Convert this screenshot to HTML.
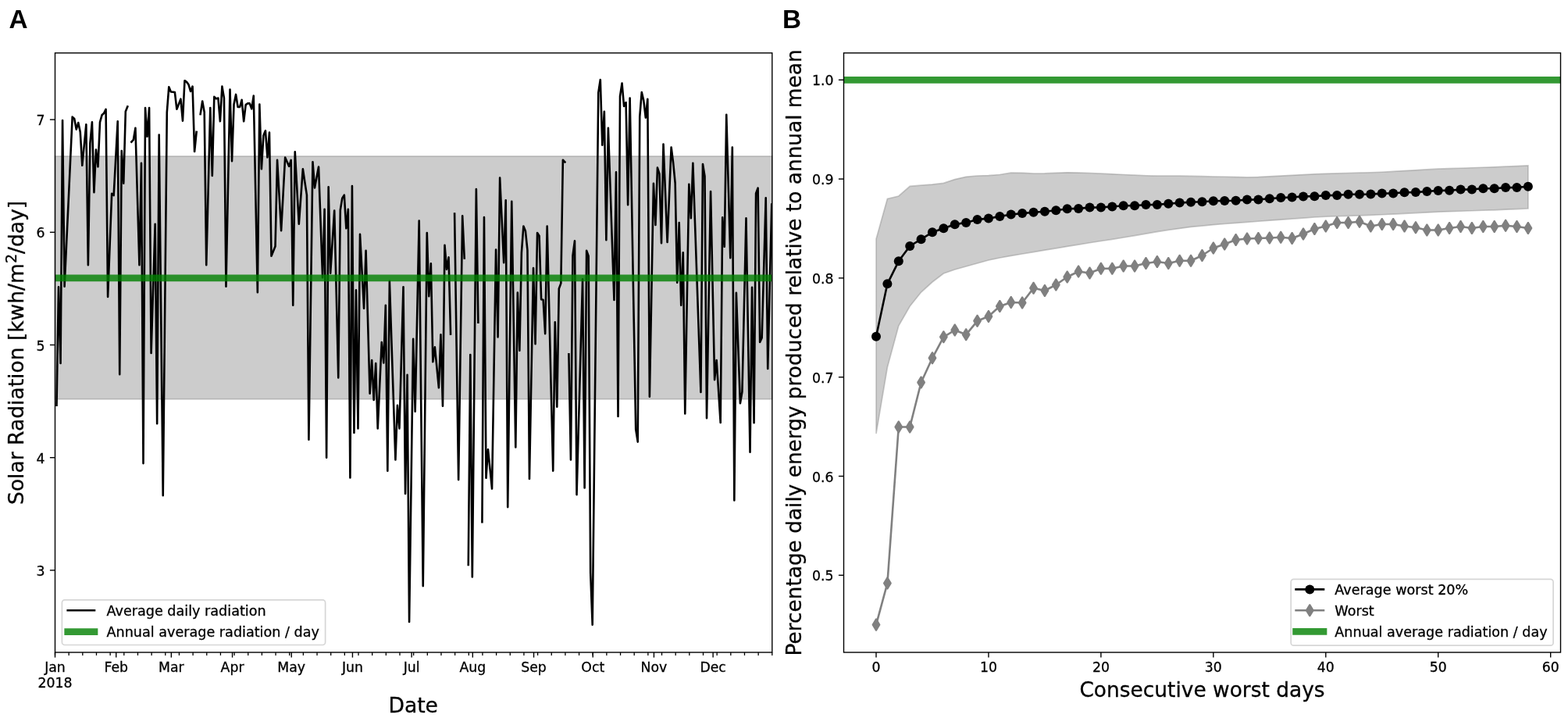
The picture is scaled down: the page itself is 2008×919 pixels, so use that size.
<!DOCTYPE html>
<html><head><meta charset="utf-8"><title>Solar radiation figure</title>
<style>html,body{margin:0;padding:0;background:#fff;}svg{display:block;}
text{font-family:'DejaVu Sans', 'Liberation Sans', sans-serif;fill:#000;stroke:#000;stroke-width:0.3px;}</style></head>
<body><svg width="2008" height="919" viewBox="0 0 2008 919">
<rect width="2008" height="919" fill="#fff"/>
<defs><clipPath id="ca"><rect x="70.5" y="67.8" width="918.3" height="767.2"/></clipPath><clipPath id="cb"><rect x="1080.5" y="67.8" width="918.0" height="767.2"/></clipPath></defs>
<rect x="70.5" y="200.0" width="918.3" height="310.8" fill="#808080" fill-opacity="0.4" stroke="#808080" stroke-opacity="0.4" stroke-width="1.7"/>
<path d="M72.5,518.6 L75.02,367.3 L77.55,465 L80.07,154.1 L82.59,366.7 L85.11,312.4 L87.64,258.2 L90.16,203.9 L92.68,149.6 L95.21,151.9 L97.73,165.6 L100.25,157 L102.77,169 L105.3,211.8 L107.82,185.5 L110.34,159.3 L112.86,339.3 L115.39,183.3 L117.91,156.4 L120.43,246.1 L122.96,191.5 L125.48,213.5 L128,156.4 L130.52,147.3 L133.05,145 L135.57,139.8 L138.09,379.9 L140.62,313.9 L143.14,247.8 L145.66,250.1 L148.18,202.7 L150.71,155.3 L153.23,479.3 L155.75,193 L158.28,234.7 L160.8,142.7 L163.32,136.4" fill="none" stroke="#000" stroke-width="2.6" stroke-linejoin="round" stroke-linecap="square" clip-path="url(#ca)"/>
<path d="M168.37,181.6 L170.89,178.8 L173.41,163.9 L175.93,251.6 L178.46,339.3 L180.98,208.9 L183.5,593.1 L186.03,138.1 L188.55,174.8 L191.07,138.1 L193.59,451.9 L196.12,369.3 L198.64,286.8 L201.16,542.2 L203.69,172.5 L206.21,403.4 L208.73,634.3 L211.25,389.1 L213.78,143.8 L216.3,111.2 L218.82,117.5 L221.35,117.8 L223.87,118.1 L226.39,139.8 L228.91,133.2 L231.44,126.7 L233.96,154.7 L236.48,103.2 L239,104.9 L241.53,108.3 L244.05,116.9 L246.57,110.6 L249.1,194 L251.62,169" fill="none" stroke="#000" stroke-width="2.6" stroke-linejoin="round" stroke-linecap="square" clip-path="url(#ca)"/>
<path d="M256.66,146.1 L259.19,129.5 L261.71,143.8 L264.23,339.3 L266.76,238.7 L269.28,138.1 L271.8,224.9 L274.32,123.8 L276.85,126.4 L279.37,125.5 L281.89,155.3 L284.42,110.6 L286.94,125.5 L289.46,366.7 L291.98,240.7 L294.51,114.6 L297.03,206.3 L299.55,133.5 L302.07,120.9 L304.6,137 L307.12,137 L309.64,127.8 L312.17,155.3 L314.69,134.1 L317.21,132.4 L319.73,132.4 L322.26,139.3 L324.78,122.6 L327.3,248.4 L329.83,374.2 L332.35,133.5 L334.87,216.3 L337.39,173.6 L339.92,167.3 L342.44,201.5 L344.96,169.6 L347.49,327.8 L350.01,321.5 L352.53,315.2 L355.05,204.9 L357.58,250 L360.1,295.2 L362.62,248.3 L365.14,201.5 L367.67,207.2 L370.19,212.9 L372.71,204.9 L375.24,390.7 L377.76,194.4 L380.28,240.6 L382.8,286.8 L385.33,251.6 L387.85,216.3 L390.37,233 L392.9,249.6 L395.42,562.8 L397.94,385 L400.46,207.2 L402.99,240.4 L405.51,226.9 L408.03,213.5 L410.56,284.4 L413.08,355.3 L415.6,267.9 L418.12,585.7 L420.65,239.3 L423.17,349.6 L425.69,309.6 L428.21,269.6 L430.74,376.5 L433.26,483.4 L435.78,269 L438.31,253.6 L440.83,249.6 L443.35,292.3 L445.87,267.9 L448.4,611.4 L450.92,238.1 L453.44,553.9 L455.97,371.3 L458.49,548.4 L461.01,299.7 L463.53,347.2 L466.06,394.6 L468.58,320.9 L471.1,412.3 L473.63,503.7 L476.15,461 L478.67,512 L481.19,465 L483.72,548.4 L486.24,493.3 L488.76,438.1 L491.28,464.5 L493.81,390.8 L496.33,602.7 L498.85,359.9 L501.38,436.1 L503.9,512.3 L506.42,588.5 L508.94,518.9 L511.47,548.4 L513.99,457.9 L516.51,367.3 L519.04,632 L521.56,479.9 L524.08,796 L526.6,615 L529.13,433.9 L531.65,526.7 L534.17,404.6 L536.7,282.6 L539.22,516.3 L541.74,750.1 L544.26,524.1 L546.79,298.1 L549.31,379.2 L551.83,337.4 L554.35,463.2 L556.88,444.3 L559.4,470.3 L561.92,496.3 L564.45,428.2 L566.97,519.8 L569.49,313.9 L572.01,344.8 L574.54,329.4 L577.06,427.6" fill="none" stroke="#000" stroke-width="2.6" stroke-linejoin="round" stroke-linecap="square" clip-path="url(#ca)"/>
<path d="M582.11,273.5 L584.63,443.8 L587.15,614.1 L589.67,445.2 L592.2,276.3 L594.72,330.5" fill="none" stroke="#000" stroke-width="2.6" stroke-linejoin="round" stroke-linecap="square" clip-path="url(#ca)"/>
<path d="M599.77,722.9 L602.29,454 L604.81,738.4 L607.33,490.2 L609.86,242 L612.38,412.8" fill="none" stroke="#000" stroke-width="2.6" stroke-linejoin="round" stroke-linecap="square" clip-path="url(#ca)"/>
<path d="M617.42,668.3 L619.95,278 L622.47,611.8 L624.99,575.3 L627.52,600.4 L630.04,625.5 L632.56,472.6 L635.08,319.6 L637.61,431.4 L640.13,227.6 L642.65,281.9 L645.18,336.2 L647.7,256.3 L650.22,649.1 L652.74,453.4 L655.27,257.8 L657.79,415.1 L660.31,572.5 L662.84,374.6 L665.36,448.8 L667.88,323.6 L670.4,289.5 L672.93,295.8 L675.45,320.2 L677.97,612.9 L680.49,478 L683.02,343.1 L685.54,440.2 L688.06,298 L690.59,301.9 L693.11,383.2 L695.63,383.8 L698.15,427.1 L700.68,289.5 L703.2,393.9 L705.72,498.2 L708.25,602.6 L710.77,412.2 L713.29,520.7 L715.81,369.5 L718.34,362.6 L720.86,204.7 L723.38,207.4" fill="none" stroke="#000" stroke-width="2.6" stroke-linejoin="round" stroke-linecap="square" clip-path="url(#ca)"/>
<path d="M728.43,453.4 L730.95,588.5 L733.47,327.1 L736,308.2 L738.52,633.1 L741.04,541.2 L743.56,449.3 L746.09,357.4 L748.61,624.4 L751.13,320.8 L753.66,327.8 L756.18,733 L758.7,799.6 L761.22,572.6 L763.75,345.6 L766.27,118.6 L768.79,102 L771.32,185.6 L773.84,142.7 L776.36,307.2 L778.88,163.9 L781.41,237.2 L783.93,310.6 L786.45,383.9 L788.98,220.4 L791.5,533 L794.02,123.2 L796.54,106.6 L799.07,136 L801.59,131.2 L804.11,262.2 L806.63,125.5 L809.16,266.9 L811.68,408.2 L814.2,549.6 L816.73,565.6 L819.25,149.6 L821.77,118.1 L824.29,128.9 L826.82,150.7 L829.34,126.7 L831.86,507.8 L834.39,371.2 L836.91,234.7 L839.43,287.9 L841.95,214.6 L844.48,222.6 L847,311.2 L849.52,184.5 L852.05,247.3 L854.57,310 L857.09,249.3 L859.61,188.5 L862.14,208.3 L864.66,234.7 L867.18,361.6 L869.7,285.1 L872.23,390.7 L874.75,323.2 L877.27,529.5 L879.8,382.7 L882.32,235.8 L884.84,279.3 L887.36,208.9 L889.89,282.2 L892.41,355.5 L894.93,428.7 L897.46,502 L899.98,210 L902.5,225.5 L905.02,535.2 L907.55,390.1 L910.07,245 L912.59,365.6 L915.12,486.2 L917.64,461 L920.16,501 L922.68,541 L925.21,278.2 L927.73,315.8 L930.25,146.7 L932.77,238.4 L935.3,330.1 L937.82,188.5 L940.34,640.4 L942.87,374.8 L945.39,445.6 L947.91,516.3 L950.43,501.5 L952.96,390.4 L955.48,279.3 L958,429.1 L960.53,578.8 L963.05,367.9 L965.57,541.3 L968.09,247.4 L970.62,240.6 L973.14,438 L975.66,432.5 L978.19,342.9 L980.71,253.3 L983.23,472 L985.75,366.6 L988.28,261.2 L990.8,261.2" fill="none" stroke="#000" stroke-width="2.6" stroke-linejoin="round" stroke-linecap="square" clip-path="url(#ca)"/>
<line x1="70.5" x2="988.8" y1="355.8" y2="355.8" stroke="#008000" stroke-opacity="0.8" stroke-width="8.7" clip-path="url(#ca)"/>
<rect x="79.4" y="767.9" width="337.2" height="57.6" rx="3.5" fill="#fff" fill-opacity="0.8" stroke="#d6d6d6" stroke-width="1.7"/>
<line x1="86.7" x2="121.0" y1="781.3" y2="781.3" stroke="#000" stroke-width="2.6" stroke-linecap="square"/>
<line x1="86.7" x2="121.0" y1="808.6" y2="808.6" stroke="#008000" stroke-opacity="0.8" stroke-width="8.7" stroke-linecap="square"/>
<text x="136.5" y="787.5" font-size="17.6">Average daily radiation</text>
<text x="136.5" y="814.8" font-size="17.6">Annual average radiation / day</text>
<rect x="70.5" y="67.8" width="918.3" height="767.2" fill="none" stroke="#000" stroke-width="1.4"/>
<line x1="63.9" x2="70.5" y1="729.9" y2="729.9" stroke="#000" stroke-width="1.4"/>
<text x="57.5" y="736.9" font-size="17.3" text-anchor="end">3</text>
<line x1="63.9" x2="70.5" y1="585.7" y2="585.7" stroke="#000" stroke-width="1.4"/>
<text x="57.5" y="592.7" font-size="17.3" text-anchor="end">4</text>
<line x1="63.9" x2="70.5" y1="441.5" y2="441.5" stroke="#000" stroke-width="1.4"/>
<text x="57.5" y="448.5" font-size="17.3" text-anchor="end">5</text>
<line x1="63.9" x2="70.5" y1="297.3" y2="297.3" stroke="#000" stroke-width="1.4"/>
<text x="57.5" y="304.3" font-size="17.3" text-anchor="end">6</text>
<line x1="63.9" x2="70.5" y1="153.1" y2="153.1" stroke="#000" stroke-width="1.4"/>
<text x="57.5" y="160.1" font-size="17.3" text-anchor="end">7</text>
<line x1="70.5" x2="70.5" y1="835.0" y2="841.6" stroke="#000" stroke-width="1.4"/>
<text x="70.5" y="860.0" font-size="17.3" text-anchor="middle">Jan</text>
<line x1="148.71" x2="148.71" y1="835.0" y2="841.6" stroke="#000" stroke-width="1.4"/>
<text x="148.71" y="860.0" font-size="17.3" text-anchor="middle">Feb</text>
<line x1="219.35" x2="219.35" y1="835.0" y2="841.6" stroke="#000" stroke-width="1.4"/>
<text x="219.35" y="860.0" font-size="17.3" text-anchor="middle">Mar</text>
<line x1="297.55" x2="297.55" y1="835.0" y2="841.6" stroke="#000" stroke-width="1.4"/>
<text x="297.55" y="860.0" font-size="17.3" text-anchor="middle">Apr</text>
<line x1="373.24" x2="373.24" y1="835.0" y2="841.6" stroke="#000" stroke-width="1.4"/>
<text x="373.24" y="860.0" font-size="17.3" text-anchor="middle">May</text>
<line x1="451.44" x2="451.44" y1="835.0" y2="841.6" stroke="#000" stroke-width="1.4"/>
<text x="451.44" y="860.0" font-size="17.3" text-anchor="middle">Jun</text>
<line x1="527.13" x2="527.13" y1="835.0" y2="841.6" stroke="#000" stroke-width="1.4"/>
<text x="527.13" y="860.0" font-size="17.3" text-anchor="middle">Jul</text>
<line x1="605.33" x2="605.33" y1="835.0" y2="841.6" stroke="#000" stroke-width="1.4"/>
<text x="605.33" y="860.0" font-size="17.3" text-anchor="middle">Aug</text>
<line x1="683.54" x2="683.54" y1="835.0" y2="841.6" stroke="#000" stroke-width="1.4"/>
<text x="683.54" y="860.0" font-size="17.3" text-anchor="middle">Sep</text>
<line x1="759.23" x2="759.23" y1="835.0" y2="841.6" stroke="#000" stroke-width="1.4"/>
<text x="759.23" y="860.0" font-size="17.3" text-anchor="middle">Oct</text>
<line x1="837.43" x2="837.43" y1="835.0" y2="841.6" stroke="#000" stroke-width="1.4"/>
<text x="837.43" y="860.0" font-size="17.3" text-anchor="middle">Nov</text>
<line x1="913.12" x2="913.12" y1="835.0" y2="841.6" stroke="#000" stroke-width="1.4"/>
<text x="913.12" y="860.0" font-size="17.3" text-anchor="middle">Dec</text>
<text x="70.5" y="880.2" font-size="17.3" text-anchor="middle">2018</text>
<line x1="70.5" x2="70.5" y1="835.0" y2="838.9" stroke="#000" stroke-width="1.3"/>
<line x1="88.16" x2="88.16" y1="835.0" y2="838.9" stroke="#000" stroke-width="1.3"/>
<line x1="105.82" x2="105.82" y1="835.0" y2="838.9" stroke="#000" stroke-width="1.3"/>
<line x1="123.48" x2="123.48" y1="835.0" y2="838.9" stroke="#000" stroke-width="1.3"/>
<line x1="141.14" x2="141.14" y1="835.0" y2="838.9" stroke="#000" stroke-width="1.3"/>
<line x1="158.8" x2="158.8" y1="835.0" y2="838.9" stroke="#000" stroke-width="1.3"/>
<line x1="176.46" x2="176.46" y1="835.0" y2="838.9" stroke="#000" stroke-width="1.3"/>
<line x1="194.12" x2="194.12" y1="835.0" y2="838.9" stroke="#000" stroke-width="1.3"/>
<line x1="211.78" x2="211.78" y1="835.0" y2="838.9" stroke="#000" stroke-width="1.3"/>
<line x1="229.44" x2="229.44" y1="835.0" y2="838.9" stroke="#000" stroke-width="1.3"/>
<line x1="247.1" x2="247.1" y1="835.0" y2="838.9" stroke="#000" stroke-width="1.3"/>
<line x1="264.76" x2="264.76" y1="835.0" y2="838.9" stroke="#000" stroke-width="1.3"/>
<line x1="282.42" x2="282.42" y1="835.0" y2="838.9" stroke="#000" stroke-width="1.3"/>
<line x1="300.08" x2="300.08" y1="835.0" y2="838.9" stroke="#000" stroke-width="1.3"/>
<line x1="317.73" x2="317.73" y1="835.0" y2="838.9" stroke="#000" stroke-width="1.3"/>
<line x1="335.39" x2="335.39" y1="835.0" y2="838.9" stroke="#000" stroke-width="1.3"/>
<line x1="353.05" x2="353.05" y1="835.0" y2="838.9" stroke="#000" stroke-width="1.3"/>
<line x1="370.71" x2="370.71" y1="835.0" y2="838.9" stroke="#000" stroke-width="1.3"/>
<line x1="388.37" x2="388.37" y1="835.0" y2="838.9" stroke="#000" stroke-width="1.3"/>
<line x1="406.03" x2="406.03" y1="835.0" y2="838.9" stroke="#000" stroke-width="1.3"/>
<line x1="423.69" x2="423.69" y1="835.0" y2="838.9" stroke="#000" stroke-width="1.3"/>
<line x1="441.35" x2="441.35" y1="835.0" y2="838.9" stroke="#000" stroke-width="1.3"/>
<line x1="459.01" x2="459.01" y1="835.0" y2="838.9" stroke="#000" stroke-width="1.3"/>
<line x1="476.67" x2="476.67" y1="835.0" y2="838.9" stroke="#000" stroke-width="1.3"/>
<line x1="494.33" x2="494.33" y1="835.0" y2="838.9" stroke="#000" stroke-width="1.3"/>
<line x1="511.99" x2="511.99" y1="835.0" y2="838.9" stroke="#000" stroke-width="1.3"/>
<line x1="529.65" x2="529.65" y1="835.0" y2="838.9" stroke="#000" stroke-width="1.3"/>
<line x1="547.31" x2="547.31" y1="835.0" y2="838.9" stroke="#000" stroke-width="1.3"/>
<line x1="564.97" x2="564.97" y1="835.0" y2="838.9" stroke="#000" stroke-width="1.3"/>
<line x1="582.63" x2="582.63" y1="835.0" y2="838.9" stroke="#000" stroke-width="1.3"/>
<line x1="600.29" x2="600.29" y1="835.0" y2="838.9" stroke="#000" stroke-width="1.3"/>
<line x1="617.95" x2="617.95" y1="835.0" y2="838.9" stroke="#000" stroke-width="1.3"/>
<line x1="635.61" x2="635.61" y1="835.0" y2="838.9" stroke="#000" stroke-width="1.3"/>
<line x1="653.27" x2="653.27" y1="835.0" y2="838.9" stroke="#000" stroke-width="1.3"/>
<line x1="670.93" x2="670.93" y1="835.0" y2="838.9" stroke="#000" stroke-width="1.3"/>
<line x1="688.59" x2="688.59" y1="835.0" y2="838.9" stroke="#000" stroke-width="1.3"/>
<line x1="706.25" x2="706.25" y1="835.0" y2="838.9" stroke="#000" stroke-width="1.3"/>
<line x1="723.91" x2="723.91" y1="835.0" y2="838.9" stroke="#000" stroke-width="1.3"/>
<line x1="741.57" x2="741.57" y1="835.0" y2="838.9" stroke="#000" stroke-width="1.3"/>
<line x1="759.23" x2="759.23" y1="835.0" y2="838.9" stroke="#000" stroke-width="1.3"/>
<line x1="776.88" x2="776.88" y1="835.0" y2="838.9" stroke="#000" stroke-width="1.3"/>
<line x1="794.54" x2="794.54" y1="835.0" y2="838.9" stroke="#000" stroke-width="1.3"/>
<line x1="812.2" x2="812.2" y1="835.0" y2="838.9" stroke="#000" stroke-width="1.3"/>
<line x1="829.86" x2="829.86" y1="835.0" y2="838.9" stroke="#000" stroke-width="1.3"/>
<line x1="847.52" x2="847.52" y1="835.0" y2="838.9" stroke="#000" stroke-width="1.3"/>
<line x1="865.18" x2="865.18" y1="835.0" y2="838.9" stroke="#000" stroke-width="1.3"/>
<line x1="882.84" x2="882.84" y1="835.0" y2="838.9" stroke="#000" stroke-width="1.3"/>
<line x1="900.5" x2="900.5" y1="835.0" y2="838.9" stroke="#000" stroke-width="1.3"/>
<line x1="918.16" x2="918.16" y1="835.0" y2="838.9" stroke="#000" stroke-width="1.3"/>
<line x1="935.82" x2="935.82" y1="835.0" y2="838.9" stroke="#000" stroke-width="1.3"/>
<line x1="953.48" x2="953.48" y1="835.0" y2="838.9" stroke="#000" stroke-width="1.3"/>
<line x1="971.14" x2="971.14" y1="835.0" y2="838.9" stroke="#000" stroke-width="1.3"/>
<line x1="988.8" x2="988.8" y1="835.0" y2="838.9" stroke="#000" stroke-width="1.3"/>
<text x="529.2" y="911.8" font-size="26.8" text-anchor="middle" textLength="63.6" lengthAdjust="spacingAndGlyphs">Date</text>
<text transform="translate(29.8,451.4) rotate(-90)" font-size="26.8" text-anchor="middle" textLength="389.1" lengthAdjust="spacingAndGlyphs">Solar Radiation [kwh/m<tspan dy="-9" font-size="19.3">2</tspan><tspan dy="9">/day]</tspan></text>
<text x="11.6" y="35.6" font-size="33.3" font-weight="bold" style="font-family:'Liberation Sans', Arial, sans-serif;stroke-width:0">A</text>
<path d="M1122,306 L1136.39,254.4 L1150.79,251 L1165.18,238.4 L1179.58,237.2 L1193.97,236.1 L1208.37,234.4 L1222.77,229.6 L1237.16,226.3 L1251.56,225 L1265.95,224.6 L1280.35,223.5 L1294.74,221.2 L1309.13,221.3 L1323.53,221.99 L1337.92,221.95 L1352.32,221.33 L1366.71,220.84 L1381.11,221.07 L1395.51,221.48 L1409.9,222.16 L1424.3,222.83 L1438.69,223.51 L1453.09,224.17 L1467.48,224.75 L1481.88,225.2 L1496.27,225.2 L1510.66,225.2 L1525.06,225.43 L1539.45,225.7 L1553.85,225.98 L1568.24,226.27 L1582.64,226.58 L1597.03,226.88 L1611.43,226.55 L1625.83,225.81 L1640.22,225.07 L1654.62,224.33 L1669.01,223.58 L1683.4,222.84 L1697.8,222.29 L1712.19,221.91 L1726.59,221.52 L1740.99,221.14 L1755.38,220.76 L1769.78,220.23 L1784.17,219.42 L1798.57,218.6 L1812.96,217.78 L1827.36,216.97 L1841.75,216.19 L1856.14,215.71 L1870.54,215.23 L1884.93,214.75 L1899.33,214.27 L1913.72,213.79 L1928.12,213.2 L1942.51,212.6 L1956.91,212 L1956.91,267 L1942.51,267.6 L1928.12,268.2 L1913.72,268.79 L1899.33,269.27 L1884.93,269.75 L1870.54,270.23 L1856.14,270.71 L1841.75,271.19 L1827.36,271.88 L1812.96,272.6 L1798.57,273.32 L1784.17,274.04 L1769.78,274.76 L1755.38,275.32 L1740.99,275.8 L1726.59,276.28 L1712.19,276.76 L1697.8,277.24 L1683.4,277.99 L1669.01,279.04 L1654.62,280.1 L1640.22,281.15 L1625.83,282.21 L1611.43,283.27 L1597.03,284.34 L1582.64,285.41 L1568.24,286.49 L1553.85,287.69 L1539.45,289.08 L1525.06,290.46 L1510.66,292.38 L1496.27,294.32 L1481.88,296.59 L1467.48,299.06 L1453.09,301.54 L1438.69,304.01 L1424.3,306.31 L1409.9,308.49 L1395.51,310.73 L1381.11,313.1 L1366.71,315.46 L1352.32,317.83 L1337.92,320.19 L1323.53,322.59 L1309.13,325 L1294.74,327.4 L1280.35,330 L1265.95,333 L1251.56,337 L1237.16,341 L1222.77,345 L1208.37,350 L1193.97,361 L1179.58,374 L1165.18,392 L1150.79,417 L1136.39,470 L1122,555Z" fill="#808080" fill-opacity="0.4" stroke="#808080" stroke-opacity="0.4" stroke-width="1.7" clip-path="url(#cb)"/>
<line x1="1080.5" x2="1998.5" y1="102.3" y2="102.3" stroke="#008000" stroke-opacity="0.8" stroke-width="8.7" clip-path="url(#cb)"/>
<path d="M1122,799.6 L1136.39,746.5 L1150.79,546.5 L1165.18,546.5 L1179.58,489.5 L1193.97,458.3 L1208.37,431.3 L1222.77,422.5 L1237.16,428.3 L1251.56,410.8 L1265.95,405 L1280.35,392 L1294.74,387 L1309.13,387.5 L1323.53,368.8 L1337.92,372 L1352.32,364.5 L1366.71,354.5 L1381.11,347.5 L1395.51,349.5 L1409.9,343.8 L1424.3,343.8 L1438.69,340.5 L1453.09,340.5 L1467.48,337 L1481.88,335 L1496.27,337 L1510.66,333.8 L1525.06,333.8 L1539.45,327 L1553.85,317.5 L1568.24,312.5 L1582.64,307 L1597.03,305.5 L1611.43,305 L1625.83,304.5 L1640.22,303.8 L1654.62,305 L1669.01,299.5 L1683.4,293 L1697.8,289.5 L1712.19,285 L1726.59,285 L1740.99,283.8 L1755.38,289.5 L1769.78,287 L1784.17,287 L1798.57,289.5 L1812.96,291.2 L1827.36,294.5 L1841.75,294.5 L1856.14,292 L1870.54,290 L1884.93,292 L1899.33,290 L1913.72,290 L1928.12,288.8 L1942.51,290 L1956.91,292" fill="none" stroke="#808080" stroke-width="2.6" stroke-linejoin="round" clip-path="url(#cb)"/>
<path d="M1122,792 L1126.6,799.6 L1122,807.2 L1117.4,799.6Z" fill="#808080" stroke="#808080" stroke-width="1.74" stroke-linejoin="bevel"/>
<path d="M1136.39,738.9 L1140.99,746.5 L1136.39,754.1 L1131.8,746.5Z" fill="#808080" stroke="#808080" stroke-width="1.74" stroke-linejoin="bevel"/>
<path d="M1150.79,538.9 L1155.39,546.5 L1150.79,554.1 L1146.19,546.5Z" fill="#808080" stroke="#808080" stroke-width="1.74" stroke-linejoin="bevel"/>
<path d="M1165.18,538.9 L1169.78,546.5 L1165.18,554.1 L1160.59,546.5Z" fill="#808080" stroke="#808080" stroke-width="1.74" stroke-linejoin="bevel"/>
<path d="M1179.58,481.9 L1184.18,489.5 L1179.58,497.1 L1174.98,489.5Z" fill="#808080" stroke="#808080" stroke-width="1.74" stroke-linejoin="bevel"/>
<path d="M1193.97,450.7 L1198.57,458.3 L1193.97,465.9 L1189.38,458.3Z" fill="#808080" stroke="#808080" stroke-width="1.74" stroke-linejoin="bevel"/>
<path d="M1208.37,423.7 L1212.97,431.3 L1208.37,438.9 L1203.77,431.3Z" fill="#808080" stroke="#808080" stroke-width="1.74" stroke-linejoin="bevel"/>
<path d="M1222.77,414.9 L1227.37,422.5 L1222.77,430.1 L1218.17,422.5Z" fill="#808080" stroke="#808080" stroke-width="1.74" stroke-linejoin="bevel"/>
<path d="M1237.16,420.7 L1241.76,428.3 L1237.16,435.9 L1232.56,428.3Z" fill="#808080" stroke="#808080" stroke-width="1.74" stroke-linejoin="bevel"/>
<path d="M1251.56,403.2 L1256.15,410.8 L1251.56,418.4 L1246.96,410.8Z" fill="#808080" stroke="#808080" stroke-width="1.74" stroke-linejoin="bevel"/>
<path d="M1265.95,397.4 L1270.55,405 L1265.95,412.6 L1261.35,405Z" fill="#808080" stroke="#808080" stroke-width="1.74" stroke-linejoin="bevel"/>
<path d="M1280.35,384.4 L1284.94,392 L1280.35,399.6 L1275.75,392Z" fill="#808080" stroke="#808080" stroke-width="1.74" stroke-linejoin="bevel"/>
<path d="M1294.74,379.4 L1299.34,387 L1294.74,394.6 L1290.14,387Z" fill="#808080" stroke="#808080" stroke-width="1.74" stroke-linejoin="bevel"/>
<path d="M1309.13,379.9 L1313.73,387.5 L1309.13,395.1 L1304.54,387.5Z" fill="#808080" stroke="#808080" stroke-width="1.74" stroke-linejoin="bevel"/>
<path d="M1323.53,361.2 L1328.13,368.8 L1323.53,376.4 L1318.93,368.8Z" fill="#808080" stroke="#808080" stroke-width="1.74" stroke-linejoin="bevel"/>
<path d="M1337.92,364.4 L1342.52,372 L1337.92,379.6 L1333.33,372Z" fill="#808080" stroke="#808080" stroke-width="1.74" stroke-linejoin="bevel"/>
<path d="M1352.32,356.9 L1356.92,364.5 L1352.32,372.1 L1347.72,364.5Z" fill="#808080" stroke="#808080" stroke-width="1.74" stroke-linejoin="bevel"/>
<path d="M1366.71,346.9 L1371.31,354.5 L1366.71,362.1 L1362.12,354.5Z" fill="#808080" stroke="#808080" stroke-width="1.74" stroke-linejoin="bevel"/>
<path d="M1381.11,339.9 L1385.71,347.5 L1381.11,355.1 L1376.51,347.5Z" fill="#808080" stroke="#808080" stroke-width="1.74" stroke-linejoin="bevel"/>
<path d="M1395.51,341.9 L1400.11,349.5 L1395.51,357.1 L1390.91,349.5Z" fill="#808080" stroke="#808080" stroke-width="1.74" stroke-linejoin="bevel"/>
<path d="M1409.9,336.2 L1414.5,343.8 L1409.9,351.4 L1405.3,343.8Z" fill="#808080" stroke="#808080" stroke-width="1.74" stroke-linejoin="bevel"/>
<path d="M1424.3,336.2 L1428.89,343.8 L1424.3,351.4 L1419.7,343.8Z" fill="#808080" stroke="#808080" stroke-width="1.74" stroke-linejoin="bevel"/>
<path d="M1438.69,332.9 L1443.29,340.5 L1438.69,348.1 L1434.09,340.5Z" fill="#808080" stroke="#808080" stroke-width="1.74" stroke-linejoin="bevel"/>
<path d="M1453.09,332.9 L1457.68,340.5 L1453.09,348.1 L1448.49,340.5Z" fill="#808080" stroke="#808080" stroke-width="1.74" stroke-linejoin="bevel"/>
<path d="M1467.48,329.4 L1472.08,337 L1467.48,344.6 L1462.88,337Z" fill="#808080" stroke="#808080" stroke-width="1.74" stroke-linejoin="bevel"/>
<path d="M1481.88,327.4 L1486.47,335 L1481.88,342.6 L1477.28,335Z" fill="#808080" stroke="#808080" stroke-width="1.74" stroke-linejoin="bevel"/>
<path d="M1496.27,329.4 L1500.87,337 L1496.27,344.6 L1491.67,337Z" fill="#808080" stroke="#808080" stroke-width="1.74" stroke-linejoin="bevel"/>
<path d="M1510.66,326.2 L1515.26,333.8 L1510.66,341.4 L1506.07,333.8Z" fill="#808080" stroke="#808080" stroke-width="1.74" stroke-linejoin="bevel"/>
<path d="M1525.06,326.2 L1529.66,333.8 L1525.06,341.4 L1520.46,333.8Z" fill="#808080" stroke="#808080" stroke-width="1.74" stroke-linejoin="bevel"/>
<path d="M1539.45,319.4 L1544.05,327 L1539.45,334.6 L1534.86,327Z" fill="#808080" stroke="#808080" stroke-width="1.74" stroke-linejoin="bevel"/>
<path d="M1553.85,309.9 L1558.45,317.5 L1553.85,325.1 L1549.25,317.5Z" fill="#808080" stroke="#808080" stroke-width="1.74" stroke-linejoin="bevel"/>
<path d="M1568.24,304.9 L1572.84,312.5 L1568.24,320.1 L1563.64,312.5Z" fill="#808080" stroke="#808080" stroke-width="1.74" stroke-linejoin="bevel"/>
<path d="M1582.64,299.4 L1587.24,307 L1582.64,314.6 L1578.04,307Z" fill="#808080" stroke="#808080" stroke-width="1.74" stroke-linejoin="bevel"/>
<path d="M1597.03,297.9 L1601.63,305.5 L1597.03,313.1 L1592.43,305.5Z" fill="#808080" stroke="#808080" stroke-width="1.74" stroke-linejoin="bevel"/>
<path d="M1611.43,297.4 L1616.03,305 L1611.43,312.6 L1606.83,305Z" fill="#808080" stroke="#808080" stroke-width="1.74" stroke-linejoin="bevel"/>
<path d="M1625.83,296.9 L1630.42,304.5 L1625.83,312.1 L1621.23,304.5Z" fill="#808080" stroke="#808080" stroke-width="1.74" stroke-linejoin="bevel"/>
<path d="M1640.22,296.2 L1644.82,303.8 L1640.22,311.4 L1635.62,303.8Z" fill="#808080" stroke="#808080" stroke-width="1.74" stroke-linejoin="bevel"/>
<path d="M1654.62,297.4 L1659.21,305 L1654.62,312.6 L1650.02,305Z" fill="#808080" stroke="#808080" stroke-width="1.74" stroke-linejoin="bevel"/>
<path d="M1669.01,291.9 L1673.61,299.5 L1669.01,307.1 L1664.41,299.5Z" fill="#808080" stroke="#808080" stroke-width="1.74" stroke-linejoin="bevel"/>
<path d="M1683.4,285.4 L1688,293 L1683.4,300.6 L1678.81,293Z" fill="#808080" stroke="#808080" stroke-width="1.74" stroke-linejoin="bevel"/>
<path d="M1697.8,281.9 L1702.4,289.5 L1697.8,297.1 L1693.2,289.5Z" fill="#808080" stroke="#808080" stroke-width="1.74" stroke-linejoin="bevel"/>
<path d="M1712.19,277.4 L1716.79,285 L1712.19,292.6 L1707.6,285Z" fill="#808080" stroke="#808080" stroke-width="1.74" stroke-linejoin="bevel"/>
<path d="M1726.59,277.4 L1731.19,285 L1726.59,292.6 L1721.99,285Z" fill="#808080" stroke="#808080" stroke-width="1.74" stroke-linejoin="bevel"/>
<path d="M1740.99,276.2 L1745.59,283.8 L1740.99,291.4 L1736.39,283.8Z" fill="#808080" stroke="#808080" stroke-width="1.74" stroke-linejoin="bevel"/>
<path d="M1755.38,281.9 L1759.98,289.5 L1755.38,297.1 L1750.78,289.5Z" fill="#808080" stroke="#808080" stroke-width="1.74" stroke-linejoin="bevel"/>
<path d="M1769.78,279.4 L1774.38,287 L1769.78,294.6 L1765.18,287Z" fill="#808080" stroke="#808080" stroke-width="1.74" stroke-linejoin="bevel"/>
<path d="M1784.17,279.4 L1788.77,287 L1784.17,294.6 L1779.57,287Z" fill="#808080" stroke="#808080" stroke-width="1.74" stroke-linejoin="bevel"/>
<path d="M1798.57,281.9 L1803.16,289.5 L1798.57,297.1 L1793.97,289.5Z" fill="#808080" stroke="#808080" stroke-width="1.74" stroke-linejoin="bevel"/>
<path d="M1812.96,283.6 L1817.56,291.2 L1812.96,298.8 L1808.36,291.2Z" fill="#808080" stroke="#808080" stroke-width="1.74" stroke-linejoin="bevel"/>
<path d="M1827.36,286.9 L1831.95,294.5 L1827.36,302.1 L1822.76,294.5Z" fill="#808080" stroke="#808080" stroke-width="1.74" stroke-linejoin="bevel"/>
<path d="M1841.75,286.9 L1846.35,294.5 L1841.75,302.1 L1837.15,294.5Z" fill="#808080" stroke="#808080" stroke-width="1.74" stroke-linejoin="bevel"/>
<path d="M1856.14,284.4 L1860.74,292 L1856.14,299.6 L1851.55,292Z" fill="#808080" stroke="#808080" stroke-width="1.74" stroke-linejoin="bevel"/>
<path d="M1870.54,282.4 L1875.14,290 L1870.54,297.6 L1865.94,290Z" fill="#808080" stroke="#808080" stroke-width="1.74" stroke-linejoin="bevel"/>
<path d="M1884.93,284.4 L1889.53,292 L1884.93,299.6 L1880.34,292Z" fill="#808080" stroke="#808080" stroke-width="1.74" stroke-linejoin="bevel"/>
<path d="M1899.33,282.4 L1903.93,290 L1899.33,297.6 L1894.73,290Z" fill="#808080" stroke="#808080" stroke-width="1.74" stroke-linejoin="bevel"/>
<path d="M1913.72,282.4 L1918.32,290 L1913.72,297.6 L1909.12,290Z" fill="#808080" stroke="#808080" stroke-width="1.74" stroke-linejoin="bevel"/>
<path d="M1928.12,281.2 L1932.72,288.8 L1928.12,296.4 L1923.52,288.8Z" fill="#808080" stroke="#808080" stroke-width="1.74" stroke-linejoin="bevel"/>
<path d="M1942.51,282.4 L1947.11,290 L1942.51,297.6 L1937.91,290Z" fill="#808080" stroke="#808080" stroke-width="1.74" stroke-linejoin="bevel"/>
<path d="M1956.91,284.4 L1961.51,292 L1956.91,299.6 L1952.31,292Z" fill="#808080" stroke="#808080" stroke-width="1.74" stroke-linejoin="bevel"/>
<path d="M1122,430.8 L1136.39,363.3 L1150.79,334.3 L1165.18,315 L1179.58,306.2 L1193.97,297.3 L1208.37,292.3 L1222.77,287.2 L1237.16,284.9 L1251.56,280.9 L1265.95,279.6 L1280.35,277 L1294.74,274.5 L1309.13,273.1 L1323.53,271.8 L1337.92,270.8 L1352.32,269.3 L1366.71,267.2 L1381.11,266.9 L1395.51,265.6 L1409.9,265.4 L1424.3,264.5 L1438.69,263.3 L1453.09,263.2 L1467.48,262.1 L1481.88,261.9 L1496.27,260.8 L1510.66,259.6 L1525.06,258.8 L1539.45,258.2 L1553.85,257.2 L1568.24,257 L1582.64,256.8 L1597.03,255.6 L1611.43,255.4 L1625.83,254.3 L1640.22,253.1 L1654.62,252.5 L1669.01,251.4 L1683.4,251.2 L1697.8,250.1 L1712.19,249.9 L1726.59,248.8 L1740.99,248.7 L1755.38,248.6 L1769.78,247.6 L1784.17,247.4 L1798.57,246.3 L1812.96,246.1 L1827.36,245 L1841.75,243.9 L1856.14,243.7 L1870.54,242.6 L1884.93,242.4 L1899.33,241.3 L1913.72,241.2 L1928.12,240.1 L1942.51,239.9 L1956.91,238.8" fill="none" stroke="#000" stroke-width="2.6" stroke-linejoin="round" clip-path="url(#cb)"/>
<circle cx="1122" cy="430.8" r="6.0" fill="#000"/>
<circle cx="1136.39" cy="363.3" r="6.0" fill="#000"/>
<circle cx="1150.79" cy="334.3" r="6.0" fill="#000"/>
<circle cx="1165.18" cy="315" r="6.0" fill="#000"/>
<circle cx="1179.58" cy="306.2" r="6.0" fill="#000"/>
<circle cx="1193.97" cy="297.3" r="6.0" fill="#000"/>
<circle cx="1208.37" cy="292.3" r="6.0" fill="#000"/>
<circle cx="1222.77" cy="287.2" r="6.0" fill="#000"/>
<circle cx="1237.16" cy="284.9" r="6.0" fill="#000"/>
<circle cx="1251.56" cy="280.9" r="6.0" fill="#000"/>
<circle cx="1265.95" cy="279.6" r="6.0" fill="#000"/>
<circle cx="1280.35" cy="277" r="6.0" fill="#000"/>
<circle cx="1294.74" cy="274.5" r="6.0" fill="#000"/>
<circle cx="1309.13" cy="273.1" r="6.0" fill="#000"/>
<circle cx="1323.53" cy="271.8" r="6.0" fill="#000"/>
<circle cx="1337.92" cy="270.8" r="6.0" fill="#000"/>
<circle cx="1352.32" cy="269.3" r="6.0" fill="#000"/>
<circle cx="1366.71" cy="267.2" r="6.0" fill="#000"/>
<circle cx="1381.11" cy="266.9" r="6.0" fill="#000"/>
<circle cx="1395.51" cy="265.6" r="6.0" fill="#000"/>
<circle cx="1409.9" cy="265.4" r="6.0" fill="#000"/>
<circle cx="1424.3" cy="264.5" r="6.0" fill="#000"/>
<circle cx="1438.69" cy="263.3" r="6.0" fill="#000"/>
<circle cx="1453.09" cy="263.2" r="6.0" fill="#000"/>
<circle cx="1467.48" cy="262.1" r="6.0" fill="#000"/>
<circle cx="1481.88" cy="261.9" r="6.0" fill="#000"/>
<circle cx="1496.27" cy="260.8" r="6.0" fill="#000"/>
<circle cx="1510.66" cy="259.6" r="6.0" fill="#000"/>
<circle cx="1525.06" cy="258.8" r="6.0" fill="#000"/>
<circle cx="1539.45" cy="258.2" r="6.0" fill="#000"/>
<circle cx="1553.85" cy="257.2" r="6.0" fill="#000"/>
<circle cx="1568.24" cy="257" r="6.0" fill="#000"/>
<circle cx="1582.64" cy="256.8" r="6.0" fill="#000"/>
<circle cx="1597.03" cy="255.6" r="6.0" fill="#000"/>
<circle cx="1611.43" cy="255.4" r="6.0" fill="#000"/>
<circle cx="1625.83" cy="254.3" r="6.0" fill="#000"/>
<circle cx="1640.22" cy="253.1" r="6.0" fill="#000"/>
<circle cx="1654.62" cy="252.5" r="6.0" fill="#000"/>
<circle cx="1669.01" cy="251.4" r="6.0" fill="#000"/>
<circle cx="1683.4" cy="251.2" r="6.0" fill="#000"/>
<circle cx="1697.8" cy="250.1" r="6.0" fill="#000"/>
<circle cx="1712.19" cy="249.9" r="6.0" fill="#000"/>
<circle cx="1726.59" cy="248.8" r="6.0" fill="#000"/>
<circle cx="1740.99" cy="248.7" r="6.0" fill="#000"/>
<circle cx="1755.38" cy="248.6" r="6.0" fill="#000"/>
<circle cx="1769.78" cy="247.6" r="6.0" fill="#000"/>
<circle cx="1784.17" cy="247.4" r="6.0" fill="#000"/>
<circle cx="1798.57" cy="246.3" r="6.0" fill="#000"/>
<circle cx="1812.96" cy="246.1" r="6.0" fill="#000"/>
<circle cx="1827.36" cy="245" r="6.0" fill="#000"/>
<circle cx="1841.75" cy="243.9" r="6.0" fill="#000"/>
<circle cx="1856.14" cy="243.7" r="6.0" fill="#000"/>
<circle cx="1870.54" cy="242.6" r="6.0" fill="#000"/>
<circle cx="1884.93" cy="242.4" r="6.0" fill="#000"/>
<circle cx="1899.33" cy="241.3" r="6.0" fill="#000"/>
<circle cx="1913.72" cy="241.2" r="6.0" fill="#000"/>
<circle cx="1928.12" cy="240.1" r="6.0" fill="#000"/>
<circle cx="1942.51" cy="239.9" r="6.0" fill="#000"/>
<circle cx="1956.91" cy="238.8" r="6.0" fill="#000"/>
<rect x="1653.2" y="741.4" width="335.9" height="84.8" rx="3.5" fill="#fff" fill-opacity="0.8" stroke="#d6d6d6" stroke-width="1.7"/>
<line x1="1659.6" x2="1695" y1="754.4" y2="754.4" stroke="#000" stroke-width="2.6" stroke-linecap="square"/>
<circle cx="1677.3" cy="754.4" r="6.0" fill="#000"/>
<line x1="1659.6" x2="1695" y1="781.3" y2="781.3" stroke="#808080" stroke-width="2.6" stroke-linecap="square"/>
<path d="M1677.3,773.7 L1681.9,781.3 L1677.3,788.9 L1672.7,781.3Z" fill="#808080" stroke="#808080" stroke-width="1.74" stroke-linejoin="bevel"/>
<line x1="1659.6" x2="1695" y1="808.4" y2="808.4" stroke="#008000" stroke-opacity="0.8" stroke-width="8.7" stroke-linecap="square"/>
<text x="1709.3" y="760.7" font-size="17.6">Average worst 20%</text>
<text x="1709.3" y="787.6" font-size="17.6">Worst</text>
<text x="1709.3" y="814.7" font-size="17.6">Annual average radiation / day</text>
<rect x="1080.5" y="67.8" width="918.0" height="767.2" fill="none" stroke="#000" stroke-width="1.4"/>
<line x1="1073.9" x2="1080.5" y1="736.3" y2="736.3" stroke="#000" stroke-width="1.4"/>
<text x="1067.5" y="743.3" font-size="17.3" text-anchor="end">0.5</text>
<line x1="1073.9" x2="1080.5" y1="609.5" y2="609.5" stroke="#000" stroke-width="1.4"/>
<text x="1067.5" y="616.5" font-size="17.3" text-anchor="end">0.6</text>
<line x1="1073.9" x2="1080.5" y1="482.7" y2="482.7" stroke="#000" stroke-width="1.4"/>
<text x="1067.5" y="489.7" font-size="17.3" text-anchor="end">0.7</text>
<line x1="1073.9" x2="1080.5" y1="355.9" y2="355.9" stroke="#000" stroke-width="1.4"/>
<text x="1067.5" y="362.9" font-size="17.3" text-anchor="end">0.8</text>
<line x1="1073.9" x2="1080.5" y1="229.1" y2="229.1" stroke="#000" stroke-width="1.4"/>
<text x="1067.5" y="236.1" font-size="17.3" text-anchor="end">0.9</text>
<line x1="1073.9" x2="1080.5" y1="102.3" y2="102.3" stroke="#000" stroke-width="1.4"/>
<text x="1067.5" y="109.3" font-size="17.3" text-anchor="end">1.0</text>
<line x1="1122" x2="1122" y1="835.0" y2="841.6" stroke="#000" stroke-width="1.4"/>
<text x="1122" y="860.0" font-size="17.3" text-anchor="middle">0</text>
<line x1="1265.95" x2="1265.95" y1="835.0" y2="841.6" stroke="#000" stroke-width="1.4"/>
<text x="1265.95" y="860.0" font-size="17.3" text-anchor="middle">10</text>
<line x1="1409.9" x2="1409.9" y1="835.0" y2="841.6" stroke="#000" stroke-width="1.4"/>
<text x="1409.9" y="860.0" font-size="17.3" text-anchor="middle">20</text>
<line x1="1553.85" x2="1553.85" y1="835.0" y2="841.6" stroke="#000" stroke-width="1.4"/>
<text x="1553.85" y="860.0" font-size="17.3" text-anchor="middle">30</text>
<line x1="1697.8" x2="1697.8" y1="835.0" y2="841.6" stroke="#000" stroke-width="1.4"/>
<text x="1697.8" y="860.0" font-size="17.3" text-anchor="middle">40</text>
<line x1="1841.75" x2="1841.75" y1="835.0" y2="841.6" stroke="#000" stroke-width="1.4"/>
<text x="1841.75" y="860.0" font-size="17.3" text-anchor="middle">50</text>
<line x1="1985.7" x2="1985.7" y1="835.0" y2="841.6" stroke="#000" stroke-width="1.4"/>
<text x="1985.7" y="860.0" font-size="17.3" text-anchor="middle">60</text>
<text x="1539.5" y="891.5" font-size="26.8" text-anchor="middle" textLength="314.2" lengthAdjust="spacingAndGlyphs">Consecutive worst days</text>
<text transform="translate(1026.0,451.4) rotate(-90)" font-size="26.8" text-anchor="middle" textLength="776.0" lengthAdjust="spacingAndGlyphs">Percentage daily energy produced relative to annual mean</text>
<text x="1001.9" y="35.6" font-size="33.3" font-weight="bold" style="font-family:'Liberation Sans', Arial, sans-serif;stroke-width:0">B</text>
</svg></body></html>
